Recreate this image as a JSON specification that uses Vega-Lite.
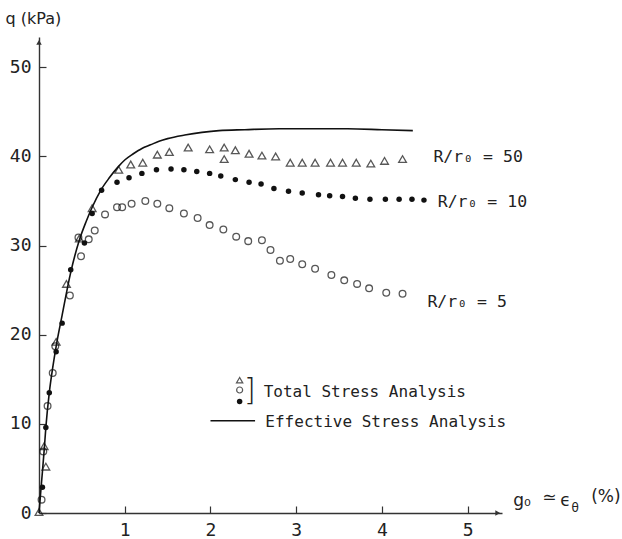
{
  "$schema": "https://vega.github.io/schema/vega-lite/v6.json",
  "autosize": {"type": "none"},
  "padding": {"left": 39, "top": 37, "right": 120, "bottom": 26},
  "width": 463,
  "height": 476,
  "background": "white",
  "config": {
    "view": {"stroke": null},
    "axis": {
      "grid": false,
      "domainColor": "#333333",
      "domainWidth": 1.4,
      "tickColor": "#333333",
      "tickWidth": 1.2,
      "labelColor": "#222222",
      "labelFont": "DejaVu Sans Mono",
      "labelFontSize": 18,
      "titleFont": "DejaVu Sans",
      "titleFontWeight": "normal",
      "titleColor": "#222222",
      "titleFontSize": 16
    }
  },
  "datasets": {
    "effective": [
      {"x": 0, "q": 0}, {"x": 0.03, "q": 3.5}, {"x": 0.06, "q": 7.0}, {"x": 0.08, "q": 9.6},
      {"x": 0.12, "q": 13.5}, {"x": 0.16, "q": 16.3}, {"x": 0.2, "q": 18.7}, {"x": 0.27, "q": 22.2},
      {"x": 0.37, "q": 27.0}, {"x": 0.47, "q": 30.6}, {"x": 0.55, "q": 32.7}, {"x": 0.62, "q": 34.3},
      {"x": 0.72, "q": 36.2}, {"x": 0.82, "q": 37.6}, {"x": 0.92, "q": 38.8}, {"x": 1.0, "q": 39.6},
      {"x": 1.1, "q": 40.3}, {"x": 1.2, "q": 40.9}, {"x": 1.3, "q": 41.3}, {"x": 1.4, "q": 41.7},
      {"x": 1.5, "q": 42.0}, {"x": 1.7, "q": 42.4}, {"x": 1.9, "q": 42.7}, {"x": 2.1, "q": 42.9},
      {"x": 2.4, "q": 43.0}, {"x": 2.8, "q": 43.1}, {"x": 3.2, "q": 43.1}, {"x": 3.6, "q": 43.1},
      {"x": 4.0, "q": 43.0}, {"x": 4.36, "q": 42.9}
    ],
    "r50": [
      {"x": 0.0, "q": 0.1}, {"x": 0.08, "q": 5.2}, {"x": 0.06, "q": 7.5}, {"x": 0.2, "q": 19.2},
      {"x": 0.32, "q": 25.7}, {"x": 0.47, "q": 30.8}, {"x": 0.62, "q": 34.2}, {"x": 0.93, "q": 38.5},
      {"x": 1.07, "q": 39.1}, {"x": 1.21, "q": 39.3}, {"x": 1.38, "q": 40.2}, {"x": 1.52, "q": 40.5},
      {"x": 1.74, "q": 41.0}, {"x": 1.99, "q": 40.8}, {"x": 2.16, "q": 41.0}, {"x": 2.16, "q": 39.7},
      {"x": 2.29, "q": 40.7}, {"x": 2.45, "q": 40.3}, {"x": 2.6, "q": 40.1}, {"x": 2.76, "q": 40.0},
      {"x": 2.93, "q": 39.3}, {"x": 3.07, "q": 39.3}, {"x": 3.22, "q": 39.3}, {"x": 3.4, "q": 39.3},
      {"x": 3.54, "q": 39.3}, {"x": 3.7, "q": 39.3}, {"x": 3.87, "q": 39.2}, {"x": 4.03, "q": 39.5},
      {"x": 4.24, "q": 39.7}
    ],
    "r10": [
      {"x": 0.04, "q": 2.9}, {"x": 0.08, "q": 9.6}, {"x": 0.12, "q": 13.5}, {"x": 0.2, "q": 18.1},
      {"x": 0.27, "q": 21.3}, {"x": 0.37, "q": 27.3}, {"x": 0.53, "q": 30.3}, {"x": 0.62, "q": 33.6},
      {"x": 0.73, "q": 36.2}, {"x": 0.91, "q": 37.1}, {"x": 1.05, "q": 37.6}, {"x": 1.2, "q": 38.1},
      {"x": 1.37, "q": 38.5}, {"x": 1.54, "q": 38.6}, {"x": 1.69, "q": 38.5}, {"x": 1.84, "q": 38.3},
      {"x": 1.99, "q": 38.1}, {"x": 2.12, "q": 37.8}, {"x": 2.29, "q": 37.4}, {"x": 2.45, "q": 37.1},
      {"x": 2.59, "q": 36.9}, {"x": 2.74, "q": 36.4}, {"x": 2.91, "q": 36.1}, {"x": 3.07, "q": 35.9},
      {"x": 3.26, "q": 35.7}, {"x": 3.39, "q": 35.6}, {"x": 3.54, "q": 35.5}, {"x": 3.69, "q": 35.3},
      {"x": 3.86, "q": 35.2}, {"x": 4.04, "q": 35.2}, {"x": 4.2, "q": 35.2}, {"x": 4.35, "q": 35.2},
      {"x": 4.49, "q": 35.1}
    ],
    "r5": [
      {"x": 0.03, "q": 1.5}, {"x": 0.05, "q": 6.9}, {"x": 0.1, "q": 12.0}, {"x": 0.16, "q": 15.7},
      {"x": 0.19, "q": 18.7}, {"x": 0.36, "q": 24.4}, {"x": 0.46, "q": 30.9}, {"x": 0.49, "q": 28.8},
      {"x": 0.58, "q": 30.7}, {"x": 0.65, "q": 31.7}, {"x": 0.77, "q": 33.5}, {"x": 0.91, "q": 34.3},
      {"x": 0.97, "q": 34.3}, {"x": 1.08, "q": 34.7}, {"x": 1.24, "q": 35.0}, {"x": 1.38, "q": 34.7},
      {"x": 1.52, "q": 34.2}, {"x": 1.69, "q": 33.6}, {"x": 1.85, "q": 33.1}, {"x": 1.99, "q": 32.3},
      {"x": 2.15, "q": 31.8}, {"x": 2.3, "q": 31.0}, {"x": 2.44, "q": 30.5}, {"x": 2.6, "q": 30.6},
      {"x": 2.7, "q": 29.5}, {"x": 2.81, "q": 28.3}, {"x": 2.93, "q": 28.5}, {"x": 3.07, "q": 27.9},
      {"x": 3.22, "q": 27.4}, {"x": 3.41, "q": 26.7}, {"x": 3.56, "q": 26.1}, {"x": 3.71, "q": 25.7},
      {"x": 3.85, "q": 25.2}, {"x": 4.05, "q": 24.7}, {"x": 4.24, "q": 24.6}
    ],
    "curveLabels": [
      {"x": 4.6, "q": 39.9, "text": "R/r₀ = 50"},
      {"x": 4.65, "q": 34.9, "text": "R/r₀ = 10"},
      {"x": 4.53, "q": 23.7, "text": "R/r₀ = 5"}
    ],
    "legendText": [
      {"x": 2.62, "q": 13.6, "text": "Total Stress Analysis"},
      {"x": 2.64, "q": 10.2, "text": "Effective Stress Analysis"}
    ],
    "legendLine": [
      {"x": 2.0, "q": 10.35}, {"x": 2.52, "q": 10.35}
    ],
    "legendTri": [{"x": 2.34, "q": 14.9}],
    "legendCirc": [{"x": 2.34, "q": 13.8}],
    "legendDot": [{"x": 2.34, "q": 12.5}],
    "legendBracket": [{"x": 2.46, "q": 13.7, "text": "]"}],
    "xTitleMain": [
      {"x": 5.53, "q": 1.4, "text": "g₀"},
      {"x": 5.87, "q": 1.7, "text": "≃"},
      {"x": 6.08, "q": 1.4, "text": "ϵ"},
      {"x": 6.44, "q": 1.8, "text": "(%)"}
    ],
    "xTitleSub": [{"x": 6.21, "q": 0.6, "text": "θ"}],
    "arrowUp": [{"x": 0, "q": 52.8}],
    "arrowRight": [{"x": 5.35, "q": 0}]
  },
  "layer": [
    {
      "data": {"name": "effective"},
      "mark": {"type": "line", "color": "#111111", "strokeWidth": 1.6, "interpolate": "monotone"},
      "encoding": {
        "x": {"field": "x", "type": "quantitative", "scale": {"domain": [0, 5.4], "nice": false},
          "axis": {"values": [1, 2, 3, 4, 5], "format": "d", "tickSize": -7, "labelPadding": 15, "title": null}},
        "y": {"field": "q", "type": "quantitative", "scale": {"domain": [0, 53.4], "nice": false},
          "axis": {"values": [0, 10, 20, 30, 40, 50], "format": "d", "tickSize": -7, "labelPadding": 15,
            "title": "q (kPa)", "titleAngle": 0, "titleAlign": "left", "titleBaseline": "middle",
            "titleX": -34, "titleY": -19}}
      }
    },
    {
      "data": {"name": "r50"},
      "mark": {"type": "point", "shape": "triangle-up", "filled": false, "color": "#111111", "strokeWidth": 1.3, "size": 60},
      "encoding": {"x": {"field": "x", "type": "quantitative"}, "y": {"field": "q", "type": "quantitative"}}
    },
    {
      "data": {"name": "r5"},
      "mark": {"type": "point", "shape": "circle", "filled": false, "color": "#111111", "strokeWidth": 1.3, "size": 45},
      "encoding": {"x": {"field": "x", "type": "quantitative"}, "y": {"field": "q", "type": "quantitative"}}
    },
    {
      "data": {"name": "r10"},
      "mark": {"type": "point", "shape": "circle", "filled": true, "color": "#111111", "opacity": 1, "size": 30},
      "encoding": {"x": {"field": "x", "type": "quantitative"}, "y": {"field": "q", "type": "quantitative"}}
    },
    {
      "data": {"name": "curveLabels"},
      "mark": {"type": "text", "align": "left", "baseline": "middle", "font": "DejaVu Sans Mono", "fontSize": 16.5, "color": "#222222"},
      "encoding": {"x": {"field": "x", "type": "quantitative"}, "y": {"field": "q", "type": "quantitative"}, "text": {"field": "text"}}
    },
    {
      "data": {"name": "legendText"},
      "mark": {"type": "text", "align": "left", "baseline": "middle", "font": "DejaVu Sans Mono", "fontSize": 16, "color": "#222222"},
      "encoding": {"x": {"field": "x", "type": "quantitative"}, "y": {"field": "q", "type": "quantitative"}, "text": {"field": "text"}}
    },
    {
      "data": {"name": "legendLine"},
      "mark": {"type": "line", "color": "#111111", "strokeWidth": 1.4},
      "encoding": {"x": {"field": "x", "type": "quantitative"}, "y": {"field": "q", "type": "quantitative"}}
    },
    {
      "data": {"name": "legendTri"},
      "mark": {"type": "point", "shape": "triangle-up", "filled": false, "color": "#111111", "strokeWidth": 1.2, "size": 40},
      "encoding": {"x": {"field": "x", "type": "quantitative"}, "y": {"field": "q", "type": "quantitative"}}
    },
    {
      "data": {"name": "legendCirc"},
      "mark": {"type": "point", "shape": "circle", "filled": false, "color": "#111111", "strokeWidth": 1.2, "size": 36},
      "encoding": {"x": {"field": "x", "type": "quantitative"}, "y": {"field": "q", "type": "quantitative"}}
    },
    {
      "data": {"name": "legendDot"},
      "mark": {"type": "point", "shape": "circle", "filled": true, "color": "#111111", "opacity": 1, "size": 30},
      "encoding": {"x": {"field": "x", "type": "quantitative"}, "y": {"field": "q", "type": "quantitative"}}
    },
    {
      "data": {"name": "legendBracket"},
      "mark": {"type": "text", "align": "center", "baseline": "middle", "font": "DejaVu Sans", "fontSize": 30, "fontWeight": 200, "color": "#222222"},
      "encoding": {"x": {"field": "x", "type": "quantitative"}, "y": {"field": "q", "type": "quantitative"}, "text": {"field": "text"}}
    },
    {
      "data": {"name": "xTitleMain"},
      "mark": {"type": "text", "align": "left", "baseline": "middle", "font": "DejaVu Sans", "fontSize": 17, "color": "#222222"},
      "encoding": {"x": {"field": "x", "type": "quantitative"}, "y": {"field": "q", "type": "quantitative"}, "text": {"field": "text"}}
    },
    {
      "data": {"name": "xTitleSub"},
      "mark": {"type": "text", "align": "left", "baseline": "middle", "font": "DejaVu Sans", "fontSize": 12, "color": "#222222"},
      "encoding": {"x": {"field": "x", "type": "quantitative"}, "y": {"field": "q", "type": "quantitative"}, "text": {"field": "text"}}
    },
    {
      "data": {"name": "arrowUp"},
      "mark": {"type": "point", "shape": "triangle-up", "filled": true, "color": "#333333", "opacity": 1, "size": 30},
      "encoding": {"x": {"field": "x", "type": "quantitative"}, "y": {"field": "q", "type": "quantitative"}}
    },
    {
      "data": {"name": "arrowRight"},
      "mark": {"type": "point", "shape": "triangle-right", "filled": true, "color": "#333333", "opacity": 1, "size": 30},
      "encoding": {"x": {"field": "x", "type": "quantitative"}, "y": {"field": "q", "type": "quantitative"}}
    }
  ]
}
